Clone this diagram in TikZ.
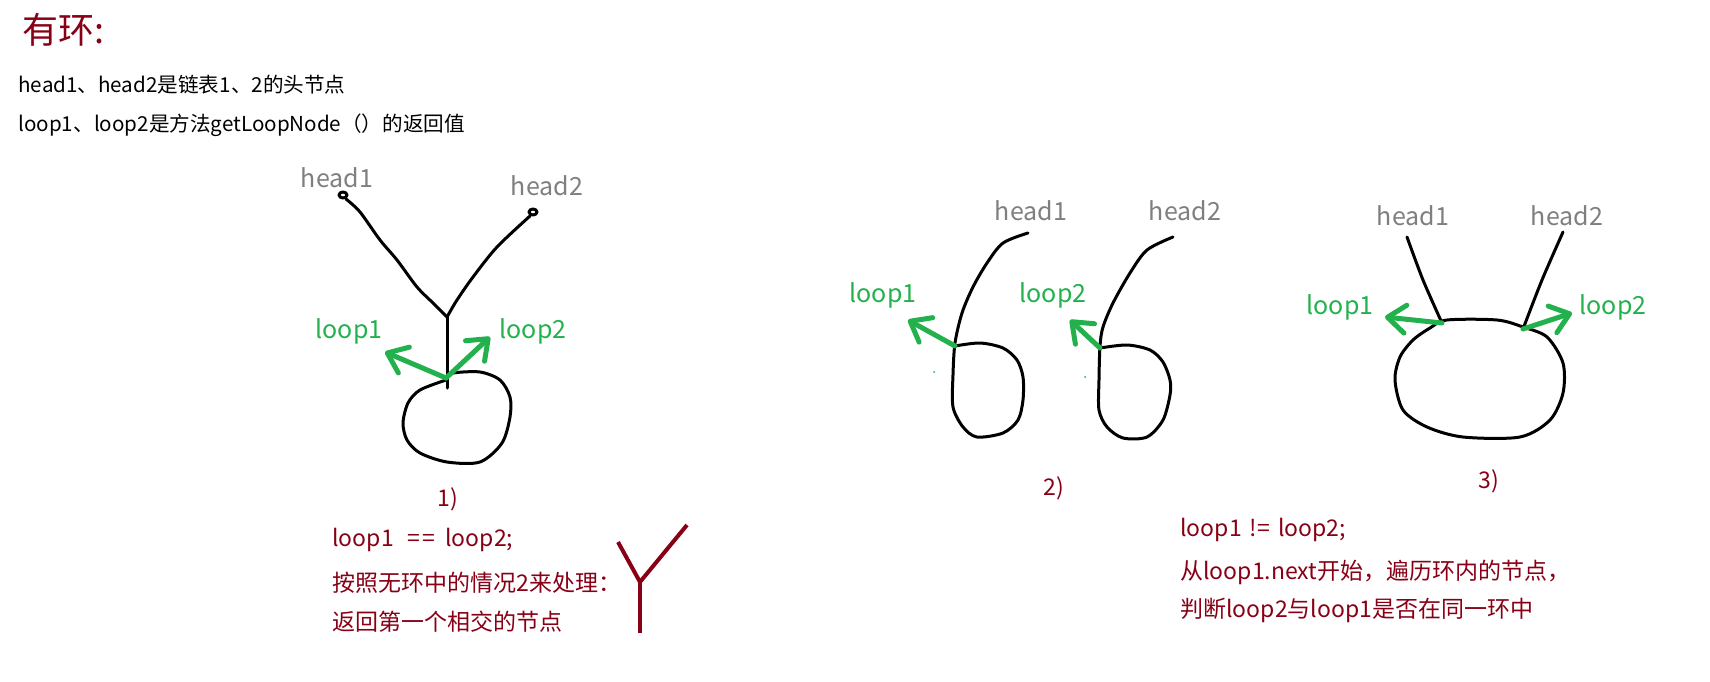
\documentclass[tikz,border=0pt]{standalone}
\usepackage{fontspec}
\setmainfont{Noto Sans CJK SC}
\usetikzlibrary{arrows.meta, positioning}
\definecolor{darkred}{HTML}{880015}
\definecolor{penGreen}{HTML}{22B14C}
\definecolor{labelGrey}{HTML}{7F7F7F}
\tikzset{%
   % black marker strokes of the sketch
   pen/.style={
      draw=black,
      line width=1.5pt,
      line cap=round,
      line join=round
   },
   redpen/.style={
      draw=darkred,
      line width=2pt
   },
   % green pointer: loop node returned by getLoopNode()
   ptr/.style={
      draw=penGreen,
      line width=2.5pt,
      line cap=round,
      -{Straight Barb[length=9pt, width=14pt, round]}
   },
   headlbl/.style={text=labelGrey, inner sep=0pt,
      font=\fontsize{12.5pt}{15pt}\selectfont},
   looplbl/.style={text=penGreen, inner sep=0pt,
      font=\fontsize{12.5pt}{15pt}\selectfont},
   note/.style={text=darkred, inner sep=0pt, anchor=west,
      font=\fontsize{11.5pt}{14pt}\selectfont},
   body/.style={inner sep=0pt, anchor=west,
      font=\fontsize{10.3pt}{13pt}\selectfont},
}

\begin{document}
\begin{tikzpicture}[x=0.5pt, y=-0.5pt]
   \useasboundingbox (0,0) rectangle (1710,681);

   % heading and explanation
   \node[anchor=west, inner sep=0pt, text=darkred,
      font=\fontsize{18pt}{22pt}\selectfont] (title) at (22,30) {有环:};
   \node[body] (txtA) at (18,85) {head1、head2是链表1、2的头节点};
   \node[body] (txtB) at (18,125) {loop1、loop2是方法getLoopNode（）的返回值};

   % ---- case 1: lists join before the loop
   \node[headlbl] (hA1) at (337,178) {head1};
   \node[headlbl] (hA2) at (547,186) {head2};
   \coordinate (joinA) at (447,317);
   \coordinate (entA) at (446,378);
   \draw[pen] (343,195) ellipse (4 and 3);
   \draw[pen] (533,212) ellipse (4 and 3);
   \draw[pen] plot[smooth] coordinates {(346,199) (360,212) (380,240)
      (397,260) (417,287) (433,303) (joinA)};
   \draw[pen] plot[smooth] coordinates {(530,216) (497,247) (473,277)
      (457,300) (joinA)};
   \draw[pen] (joinA) -- (447,388);
   \draw[pen] plot[smooth] coordinates {(446,380) (420,390) (408,403)
      (403,423) (407,440) (420,453) (447,462) (480,462) (502,443)
      (510,417) (510,397) (500,380) (480,372) (453,373) (entA)};
   \coordinate (tipA1) at (385,352);
   \coordinate (tipA2) at (490,337);
   \draw[ptr] (entA) -- (tipA1);
   \draw[ptr] (entA) -- (tipA2);
   \node[looplbl] (lA1) at (349,331) {loop1};
   \node[looplbl] (lA2) at (533,331) {loop2};
   \node[note, anchor=center] (nA) at (448,499) {1)};

   % reduce to the no-loop case
   \node[note] (rA1) at (332,540) {loop1\hspace{7pt}=\hspace{1pt}=\hspace{5pt}loop2;};
   \node[note] (rA2) at (332,583) {按照无环中的情况2来处理：};
   \node[note] (rA3) at (332,622) {返回第一个相交的节点};
   \coordinate (yJ) at (640,582);
   \draw[redpen] (618,542) -- (yJ) -- (687,525);
   \draw[redpen] (yJ) -- (640,633);

   % ---- case 2: two separate loops
   \node[headlbl] (hB1) at (1031,211) {head1};
   \node[headlbl] (hB2) at (1185,211) {head2};
   \coordinate (entB1) at (955,346);
   \coordinate (entB2) at (1100,348);
   \draw[pen] plot[smooth] coordinates {(1028,233) (1003,243) (987,263)
      (973,287) (962,313) (955,343) (953,375) (953,407) (963,427)
      (977,437) (1003,433) (1018,420) (1023,400) (1023,377) (1017,360)
      (1003,348) (980,343) (entB1)};
   \draw[pen] plot[smooth] coordinates {(1173,237) (1147,250) (1130,273)
      (1113,303) (1103,327) (1100,346) (1099,380) (1099,410) (1107,427)
      (1123,438) (1147,437) (1163,420) (1170,395) (1170,380) (1163,362)
      (1150,350) (1127,345) (entB2)};
   \coordinate (tipB1) at (908,320);
   \coordinate (tipB2) at (1070,320);
   \draw[ptr] (entB1) -- (tipB1);
   \draw[ptr] (entB2) -- (tipB2);
   \fill[penGreen] (934,372) circle (1);
   \fill[penGreen] (1085,377) circle (1);
   \node[looplbl] (lB1) at (883,295) {loop1};
   \node[looplbl] (lB2) at (1053,295) {loop2};
   \node[note, anchor=center] (nB) at (1054,488) {2)};

   % ---- case 3: one shared loop, two entries
   \node[headlbl] (hC1) at (1413,216) {head1};
   \node[headlbl] (hC2) at (1567,216) {head2};
   \coordinate (entC1) at (1442,323);
   \coordinate (entC2) at (1523,329);
   \draw[pen] plot[smooth] coordinates {(1407,237) (1423,280) (entC1)};
   \draw[pen] plot[smooth] coordinates {(1563,232) (1542,280) (entC2)};
   \draw[pen] plot[smooth cycle] coordinates {(1447,320) (1497,320)
      (1523,327) (1547,337) (1563,363) (1563,393) (1550,420) (1520,437)
      (1463,437) (1427,427) (1403,410) (1395,380) (1400,357) (1413,340)
      (1430,328)};
   \coordinate (tipC1) at (1385,317);
   \coordinate (tipC2) at (1572,313);
   \draw[ptr] (entC1) -- (tipC1);
   \draw[ptr] (entC2) -- (tipC2);
   \node[looplbl] (lC1) at (1340,307) {loop1};
   \node[looplbl] (lC2) at (1613,307) {loop2};
   \node[note, anchor=center] (nC) at (1489,481) {3)};

   \node[note] (rC1) at (1180,530) {loop1\hspace{4pt}!=\hspace{4pt}loop2;};
   \node[note] (rC2) at (1180,572) {从loop1.next开始，遍历环内的节点，};
   \node[note] (rC3) at (1180,610) {判断loop2与loop1是否在同一环中};
\end{tikzpicture}
\end{document}
